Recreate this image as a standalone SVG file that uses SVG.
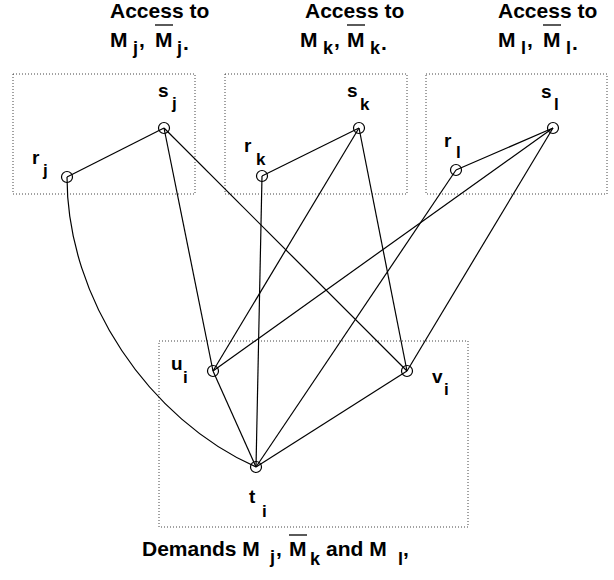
<svg xmlns="http://www.w3.org/2000/svg" width="614" height="580" viewBox="0 0 614 580">
  <style>
    .box { fill: none; stroke: #444; stroke-width: 1; stroke-dasharray: 1 2; }
    .edge { fill: none; stroke: #000; stroke-width: 1.2; }
    .node { fill: none; stroke: #000; stroke-width: 1.2; }
    .bar { stroke: #000; stroke-width: 1.3; }
    text { font-family: "Liberation Sans", Arial, sans-serif; font-weight: bold; fill: #000; }
    .cap { font-size: 21px; }
    .sub { font-size: 18px; }
    .lbl { font-size: 19px; }
    .lsub { font-size: 17px; }
  </style>

  <!-- dotted regions -->
  <g id="regions">
    <rect class="box" x="13" y="74" width="182" height="120"/>
    <rect class="box" x="225" y="74" width="182" height="120"/>
    <rect class="box" x="426" y="74" width="181" height="120"/>
    <rect class="box" x="159" y="341" width="309" height="186"/>
  </g>

  <!-- region captions -->
  <g id="caption-j">
    <text class="cap" x="110" y="18">Access to</text>
    <text class="cap" x="110" y="47">M</text>
    <text class="sub" x="133" y="54">j</text>
    <text class="cap" x="139" y="47">,</text>
    <line class="bar" x1="155" y1="25" x2="173" y2="25"/>
    <text class="cap" x="155" y="47">M</text>
    <text class="sub" x="177" y="54">j</text>
    <text class="cap" x="183" y="50">.</text>
  </g>
  <g id="caption-k">
    <text class="cap" x="305" y="18">Access to</text>
    <text class="cap" x="300" y="47">M</text>
    <text class="sub" x="323" y="54">k</text>
    <text class="cap" x="334" y="47">,</text>
    <line class="bar" x1="347" y1="25" x2="365" y2="25"/>
    <text class="cap" x="347" y="47">M</text>
    <text class="sub" x="370" y="54">k</text>
    <text class="cap" x="381" y="50">.</text>
  </g>
  <g id="caption-l">
    <text class="cap" x="498" y="18">Access to</text>
    <text class="cap" x="498" y="47">M</text>
    <text class="sub" x="521" y="54">l</text>
    <text class="cap" x="527" y="47">,</text>
    <line class="bar" x1="543" y1="25" x2="561" y2="25"/>
    <text class="cap" x="543" y="47">M</text>
    <text class="sub" x="566" y="54">l</text>
    <text class="cap" x="572" y="50">.</text>
  </g>
  <g id="caption-i">
    <text class="cap" x="142" y="556">Demands M</text>
    <text class="sub" x="270" y="563">j</text>
    <text class="cap" x="276" y="556">,</text>
    <line class="bar" x1="289" y1="535" x2="307" y2="535"/>
    <text class="cap" x="289" y="556">M</text>
    <text class="sub" x="310" y="565">k</text>
    <text class="cap" x="326" y="556">and M</text>
    <text class="sub" x="398" y="565">l</text>
    <text class="cap" x="403" y="556">,</text>
  </g>

  <!-- connectors -->
  <g id="edges">
    <line class="edge" x1="67" y1="177" x2="164" y2="128"/>
    <line class="edge" x1="164" y1="128" x2="213" y2="371"/>
    <line class="edge" x1="164" y1="128" x2="407" y2="371"/>
    <path class="edge" d="M67,177 C67,300 150,420 256,467"/>
    <line class="edge" x1="262" y1="176" x2="359" y2="128"/>
    <line class="edge" x1="262" y1="176" x2="256" y2="467"/>
    <line class="edge" x1="359" y1="128" x2="213" y2="371"/>
    <line class="edge" x1="359" y1="128" x2="407" y2="371"/>
    <line class="edge" x1="456" y1="170" x2="553" y2="128"/>
    <line class="edge" x1="456" y1="170" x2="256" y2="467"/>
    <line class="edge" x1="553" y1="128" x2="213" y2="371"/>
    <line class="edge" x1="553" y1="128" x2="407" y2="371"/>
    <line class="edge" x1="213" y1="371" x2="256" y2="467"/>
    <line class="edge" x1="407" y1="371" x2="256" y2="467"/>
  </g>

  <!-- nodes -->
  <g id="r_j">
    <circle class="node" cx="67" cy="177" r="5.5"/>
    <text class="lbl" x="32" y="164">r</text>
    <text class="lsub" x="43" y="176">j</text>
  </g>
  <g id="s_j">
    <circle class="node" cx="164" cy="128" r="5.5"/>
    <text class="lbl" x="158" y="97">s</text>
    <text class="lsub" x="172" y="109">j</text>
  </g>
  <g id="r_k">
    <circle class="node" cx="262" cy="176" r="5.5"/>
    <text class="lbl" x="244" y="152">r</text>
    <text class="lsub" x="256" y="165">k</text>
  </g>
  <g id="s_k">
    <circle class="node" cx="359" cy="128" r="5.5"/>
    <text class="lbl" x="347" y="97">s</text>
    <text class="lsub" x="360" y="110">k</text>
  </g>
  <g id="r_l">
    <circle class="node" cx="456" cy="170" r="5.5"/>
    <text class="lbl" x="444" y="147">r</text>
    <text class="lsub" x="456" y="158">l</text>
  </g>
  <g id="s_l">
    <circle class="node" cx="553" cy="128" r="5.5"/>
    <text class="lbl" x="541" y="98">s</text>
    <text class="lsub" x="554" y="110">l</text>
  </g>
  <g id="u_i">
    <circle class="node" cx="213" cy="371" r="5.5"/>
    <text class="lbl" x="171" y="370">u</text>
    <text class="lsub" x="183" y="383">i</text>
  </g>
  <g id="v_i">
    <circle class="node" cx="407" cy="371" r="5.5"/>
    <text class="lbl" x="432" y="383">v</text>
    <text class="lsub" x="444" y="395">i</text>
  </g>
  <g id="t_i">
    <circle class="node" cx="256" cy="467" r="5.5"/>
    <text class="lbl" x="249" y="503">t</text>
    <text class="lsub" x="262" y="517">i</text>
  </g>
</svg>
